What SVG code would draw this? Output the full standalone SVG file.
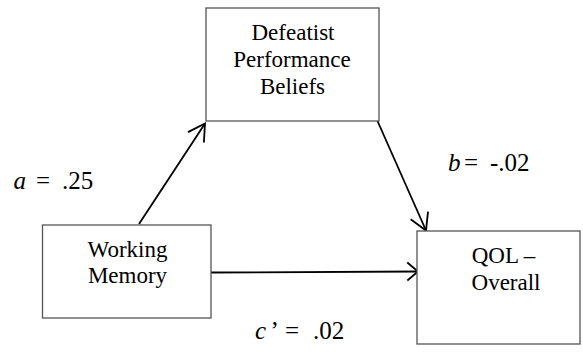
<svg xmlns="http://www.w3.org/2000/svg" width="583" height="358" viewBox="0 0 583 358">
  <defs>
    <marker id="headLong" viewBox="-20 -12 22 24" refX="0" refY="0" markerWidth="22" markerHeight="24" markerUnits="userSpaceOnUse" orient="auto" overflow="visible">
      <path d="M-16.5,-9.5 L0,0 L-16.5,9.5" fill="none" stroke="#000000" stroke-width="1.8"/>
    </marker>
    <marker id="headShort" viewBox="-14 -11 16 22" refX="0" refY="0" markerWidth="16" markerHeight="22" markerUnits="userSpaceOnUse" orient="auto" overflow="visible">
      <path d="M-10.7,-9 L0,0 L-10.7,9" fill="none" stroke="#000000" stroke-width="1.8"/>
    </marker>
  </defs>
  <rect width="583" height="358" fill="#ffffff"/>

  <g id="connectors" stroke="#000000" stroke-width="1.8" fill="none">
    <line x1="139" y1="224" x2="205" y2="123.5" marker-end="url(#headLong)"/>
    <line x1="377.5" y1="121" x2="426" y2="230.5" marker-end="url(#headLong)"/>
    <line x1="211" y1="272.5" x2="418" y2="271.5" marker-end="url(#headShort)"/>
  </g>

  <g id="defeatist">
    <rect x="206" y="8" width="173" height="113" fill="#ffffff" stroke="#555555" stroke-width="1.3"/>
    <text font-family="'Liberation Serif'" font-size="23" text-anchor="middle" x="293" y="39.5">Defeatist</text>
    <text font-family="'Liberation Serif'" font-size="23" text-anchor="middle" x="292" y="66.5">Performance</text>
    <text font-family="'Liberation Serif'" font-size="23" text-anchor="middle" x="292.5" y="93.5">Beliefs</text>
  </g>

  <g id="working-memory">
    <rect x="42.5" y="225" width="168.5" height="93" fill="#ffffff" stroke="#555555" stroke-width="1.3"/>
    <text font-family="'Liberation Serif'" font-size="23" text-anchor="middle" x="127.5" y="256.5">Working</text>
    <text font-family="'Liberation Serif'" font-size="23" text-anchor="middle" x="127.5" y="283">Memory</text>
  </g>

  <g id="qol">
    <rect x="417" y="231" width="163" height="113" fill="#ffffff" stroke="#555555" stroke-width="1.3"/>
    <text font-family="'Liberation Serif'" font-size="23" text-anchor="middle" x="503.5" y="263">QOL &#8211;</text>
    <text font-family="'Liberation Serif'" font-size="23" text-anchor="middle" x="506" y="290">Overall</text>
  </g>

  <g id="coefficients">
    <!-- a path -->
    <text font-family="'Liberation Serif'" font-size="25" font-style="italic" x="13.5" y="188.5">a</text>
    <text font-family="'Liberation Serif'" font-size="25" x="36" y="188.5">=</text>
    <text font-family="'Liberation Serif'" font-size="25" x="62" y="188.5">.25</text>
    <!-- b path -->
    <text font-family="'Liberation Serif'" font-size="25" font-style="italic" x="448" y="171.3">b</text>
    <text font-family="'Liberation Serif'" font-size="25" x="464" y="171.3">=</text>
    <text font-family="'Liberation Serif'" font-size="25" x="490" y="171.3">-.02</text>
    <!-- c' path -->
    <text font-family="'Liberation Serif'" font-size="25" font-style="italic" x="255" y="339.3">c</text>
    <text font-family="'Liberation Serif'" font-size="25" x="270.5" y="339.3">&#8217;</text>
    <text font-family="'Liberation Serif'" font-size="25" x="285" y="339.3">=</text>
    <text font-family="'Liberation Serif'" font-size="25" x="313" y="339.3">.02</text>
  </g>
</svg>
